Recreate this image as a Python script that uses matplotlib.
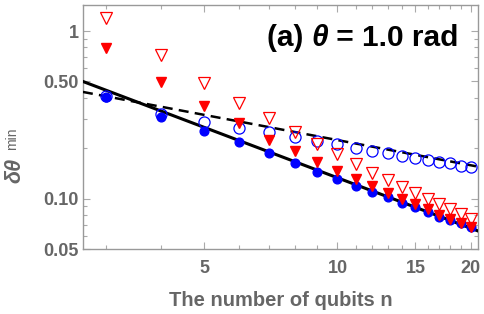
import numpy as np
import matplotlib.pyplot as plt
from matplotlib.ticker import FixedLocator, FixedFormatter, NullFormatter

plt.rcParams['font.family'] = ['Liberation Sans', 'DejaVu Sans']

# data
n = [3, 4, 5, 6, 7, 8, 9, 10, 11, 12, 13, 14, 15, 16, 17, 18, 19, 20]
open_circ = [0.410, 0.321, 0.287, 0.265, 0.2505, 0.234, 0.2215, 0.2125, 0.201,
             0.193, 0.188, 0.180, 0.1754, 0.1707, 0.166, 0.1638, 0.157, 0.155]
fill_circ = [0.405, 0.308, 0.254, 0.2185, 0.188, 0.164, 0.145, 0.1315, 0.1195,
             0.110, 0.1028, 0.0947, 0.0896, 0.0837, 0.0781, 0.074, 0.071, 0.0672]
fill_tri = [0.792, 0.497, 0.358, 0.283, 0.2245, 0.193, 0.166, 0.1468, 0.1315,
            0.1195, 0.1086, 0.100, 0.0934, 0.0872, 0.0803, 0.076, 0.071, 0.0672]
open_tri = [1.195, 0.720, 0.490, 0.373, 0.303, 0.2505, 0.2125, 0.185, 0.1616,
            0.1428, 0.1297, 0.1179, 0.1086, 0.100, 0.0934, 0.0872, 0.0814, 0.076]

# straight fit lines (log-log), end points
line_n = [2.66, 20.8]
solid_vals = [0.50, 0.064]
dashed_vals = [0.433, 0.155]

xticks = [5, 10, 15, 20]
xticklabels = ['5', '10', '15', '20']
yticks = [0.05, 0.10, 0.50, 1.0]
yticklabels = ['0.05', '0.10', '0.50', '1']

gray = '#666666'
fs = 13

fig = plt.figure(figsize=(4.85, 3.14), dpi=100)
ax = fig.add_axes([0.171, 0.207, 0.815, 0.777])

ax.plot(line_n, solid_vals, color='black', lw=2.2, zorder=3)
ax.plot(line_n, dashed_vals, color='black', lw=1.8, ls=(0, (4, 2.5)), zorder=3)

ax.plot(n, fill_circ, 'o', color='blue', ms=6.3, zorder=4)
ax.plot(n, open_circ, 'o', mfc='none', mec='blue', mew=0.9, ms=8, zorder=4)
ax.plot(n, fill_tri, 'v', color='red', ms=7.5, zorder=5)
ax.plot(n, open_tri, 'v', mfc='none', mec='red', mew=0.9, ms=8, zorder=5)

ax.set_xscale('log')
ax.set_yscale('log')
ax.set_xlim(2.66, 20.8)
ax.set_ylim(0.05, 1.43)

ax.xaxis.set_major_locator(FixedLocator(xticks))
ax.xaxis.set_major_formatter(FixedFormatter(xticklabels))
ax.xaxis.set_minor_locator(FixedLocator([3, 4, 6, 7, 8, 9, 11, 12, 13, 14, 16, 17, 18, 19]))
ax.xaxis.set_minor_formatter(NullFormatter())
ax.yaxis.set_major_locator(FixedLocator(yticks))
ax.yaxis.set_major_formatter(FixedFormatter(yticklabels))
ax.yaxis.set_minor_locator(FixedLocator([0.06, 0.07, 0.08, 0.09, 0.2, 0.3, 0.4, 0.6, 0.7, 0.8, 0.9]))
ax.yaxis.set_minor_formatter(NullFormatter())

ax.tick_params(which='both', direction='in', top=True, right=True, color='#aaaaaa',
               labelcolor=gray, labelsize=fs, width=0.8)
ax.tick_params(which='major', length=5)
ax.tick_params(which='minor', length=3)
for lab in ax.get_xticklabels() + ax.get_yticklabels():
    lab.set_fontweight('bold')
ax.tick_params(axis='x', pad=8)
ax.tick_params(axis='y', pad=3)
for s in ax.spines.values():
    s.set_color('#999999')
    s.set_linewidth(1.0)

ax.set_xlabel('The number of qubits n', fontsize=14.5, fontweight='bold', color=gray, labelpad=10)

# y label pieces
fig.text(15 / 485, 1 - 170 / 314, 'δθ', rotation=90, fontsize=15.5, fontweight='bold',
         fontstyle='italic', color=gray, ha='center', va='center')
fig.text(12 / 485, 1 - 139 / 314, 'min', rotation=90, fontsize=10,
         color=gray, ha='center', va='center')

# panel title
tfs = 21.5
t1 = fig.text(267 / 485, 1 - 38 / 314, '(a) ', fontsize=tfs, fontweight='bold',
              color='black', ha='left', va='center')
t2 = ax.annotate('θ', xy=(1, 0), xycoords=t1, va='bottom', ha='left',
                 fontsize=tfs, fontweight='bold', fontstyle='italic')
ax.annotate(' = 1.0 rad', xy=(1, 0), xycoords=t2, va='bottom', ha='left',
            fontsize=tfs, fontweight='bold')

plt.savefig('out.png', dpi=100)
